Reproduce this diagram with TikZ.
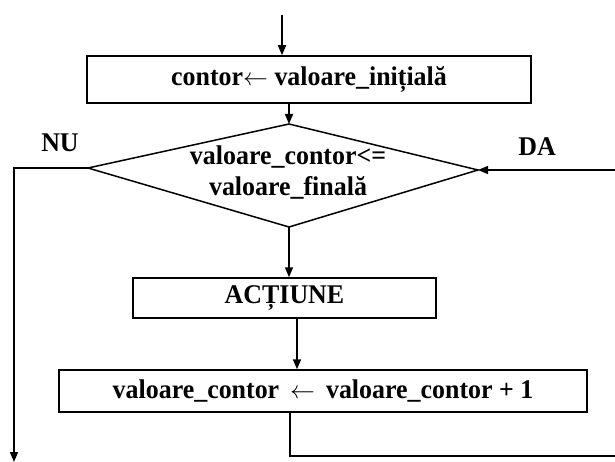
\documentclass[tikz,border=0pt]{standalone}
\usepackage{fontspec}
\setmainfont{Liberation Serif}[FakeStretch=0.96]
\usetikzlibrary{arrows.meta}
\begin{document}
\begin{tikzpicture}[x=1pt,y=-1pt,
  lbl/.style={font=\fontsize{27}{31}\selectfont\bfseries, inner sep=0pt},
  stepbox/.style={draw, line width=1.5pt, inner sep=0pt, align=center,
    font=\fontsize{27}{31}\selectfont\bfseries},
  wire/.style={line width=1.5pt},
  flow/.style={line width=1.5pt, -{Triangle[length=10pt,width=8pt]}}]
  \useasboundingbox (0,0) rectangle (615,462);

  % process boxes
  \node[stepbox, minimum width=444pt, minimum height=47pt] (init) at (309,79.5)
    {contor$\leftarrow$ valoare\_inițială};
  \node[stepbox, minimum width=303pt, minimum height=40pt] (act) at (284.5,298)
    {ACȚIUNE};
  \node[stepbox, minimum width=528pt, minimum height=42pt] (inc) at (323,391)
    {valoare\_contor \,$\leftarrow$\, valoare\_contor + 1};

  % decision diamond
  \coordinate (dtop) at (289,124);
  \coordinate (dright) at (478,170);
  \coordinate (dbot) at (289,227);
  \coordinate (dleft) at (88,168);
  \draw[wire, line join=miter] (dtop) -- (dright) -- (dbot) -- (dleft) -- cycle;
  \node[lbl, align=center] (cond) at (288,173)
    {valoare\_contor<=\\valoare\_finală};

  % branch labels
  \node[lbl] (nu) at (60,143) {NU};
  \node[lbl] (da) at (537,147) {DA};

  % connectors
  \coordinate (start) at (282,15);
  \draw[flow] (start) -- (start |- init.north);
  \draw[flow] (init.south -| dtop) -- (dtop);
  \draw[flow] (dbot) -- (dbot |- act.north);
  \coordinate (actout) at (297,318);
  \draw[flow] (actout) -- (actout |- inc.north);

  \coordinate (incout) at (290,412);
  \coordinate (loopend) at (615,456);
  \draw[wire] (incout) |- (loopend);

  \coordinate (loopin) at (615,170);
  \draw[flow] (loopin) -- (dright);

  \coordinate (exitend) at (14,462);
  \draw[flow] (dleft) -| (exitend);
\end{tikzpicture}
\end{document}
